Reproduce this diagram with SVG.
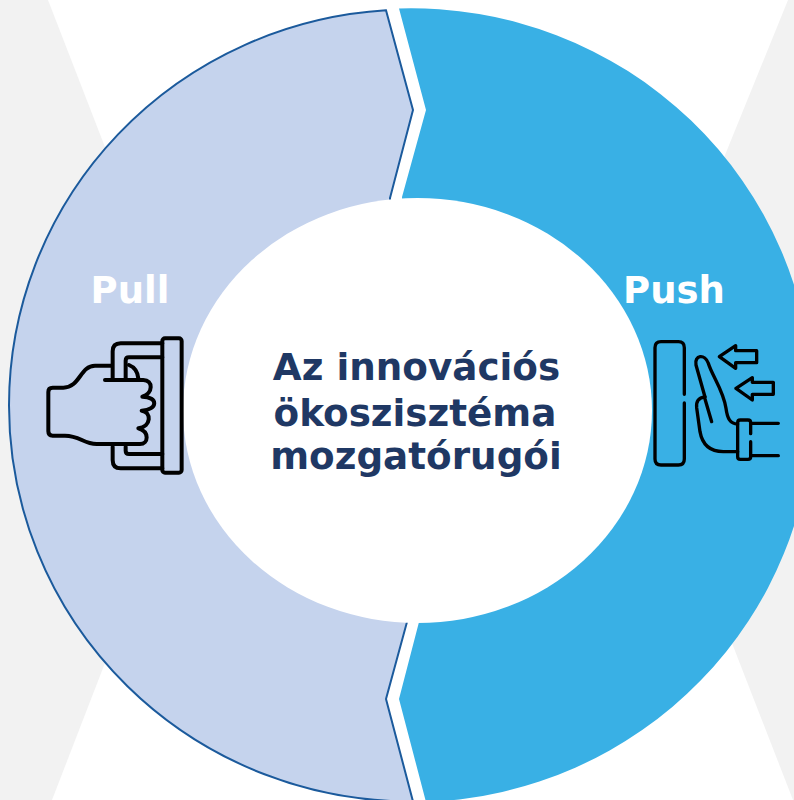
<svg xmlns="http://www.w3.org/2000/svg" width="794" height="800" viewBox="0 0 794 800">
<style>
.bg{fill:#f2f2f2}
.ic{fill:none;stroke:#000;stroke-linecap:round;stroke-linejoin:round}
.lab{font-family:"DejaVu Sans",Verdana,sans-serif;font-weight:700;font-size:37px;fill:#fff;text-anchor:middle}
.ctr{font-family:"DejaVu Sans",Verdana,sans-serif;font-weight:700;font-size:37.3px;fill:#1f3864;text-anchor:middle}
</style>
<rect width="794" height="800" fill="#fff"/>
<g id="background">
<polygon class="bg" points="0,0 48,0 110,160 110,650 52,800 0,800"/>
<polygon class="bg" points="794,0 788,0 723,160 723,620 793,800 794,800"/>
</g>
<g id="pull">
<path d="M386,10.3 L413,110 L390,198 L407,622 L386,699 L413,801.5 A402,396 0 0 1 9,405.5 A402,396 0 0 1 386,10.3 Z" fill="#c5d3ed" stroke="#1b5a9c" stroke-width="2" stroke-linejoin="miter"/>
</g>
<g id="push">
<path d="M399,8.5 L426,110 L402,197 L419,622 L399,699 L426,802 A402,397 0 0 0 813,405 A402,397 0 0 0 399,8.5 Z" fill="#39b0e5"/>
</g>
<g id="center">
<ellipse cx="417.5" cy="410.5" rx="234.5" ry="212.5" fill="#fff"/>
<text class="ctr" x="416.5" y="380">Az innovációs</text>
<text class="ctr" x="415" y="426">ökoszisztéma</text>
<text class="ctr" x="416" y="469">mozgatórugói</text>
</g>
<g id="pull-label">
<text class="lab" x="130" y="303">Pull</text>
<g transform="translate(30,320) scale(.3333)">
<g class="ic" stroke-width="12">
<rect x="397" y="55" width="58" height="403" rx="8"/>
<path d="M397,70H272Q248,70 248,94V175M248,380V420Q248,445 272,445H397"/>
<path d="M397,112H297Q287,112 287,122V175M287,380V392Q287,402 297,402H397"/>
<path d="M297,135Q322,145 325,175"/>
<path d="M245,137H195C150,137 150,203 100,203H68Q55,203 55,216V334Q55,347 68,347H105C150,347 160,372 200,372H330C355,372 360,335 325,325C365,320 365,275 335,272C385,270 385,230 337,230C370,220 370,180 340,180H225"/>
</g>
</g>
</g>
<g id="push-label">
<text class="lab" x="674" y="303">Push</text>
<g transform="translate(640,325) scale(.3333)">
<g class="ic" stroke-width="10">
<path d="M133,208V68Q133,50 115,50H63Q45,50 45,68V402Q45,420 63,420H115Q133,420 133,402V234"/>
<polygon points="238,95 287,62 287,77 350,77 350,113 287,113 287,130"/>
<polygon points="288,190 337,158 337,172 400,172 400,208 337,208 337,225"/>
<path d="M195,216L168,120C162,90 195,85 205,115C215,150 250,195 258,250C262,280 270,297 293,297"/>
<path d="M195,216C175,218 168,230 170,248L180,320C188,365 215,380 250,380H293"/>
<path d="M195,222L215,290"/>
<path d="M332,326V293Q332,285 324,285H301Q293,285 293,293V395Q293,403 301,403H324Q332,403 332,395V350"/>
<path d="M332,295H415M332,392H415"/>
</g>
</g>
</g>
</svg>
